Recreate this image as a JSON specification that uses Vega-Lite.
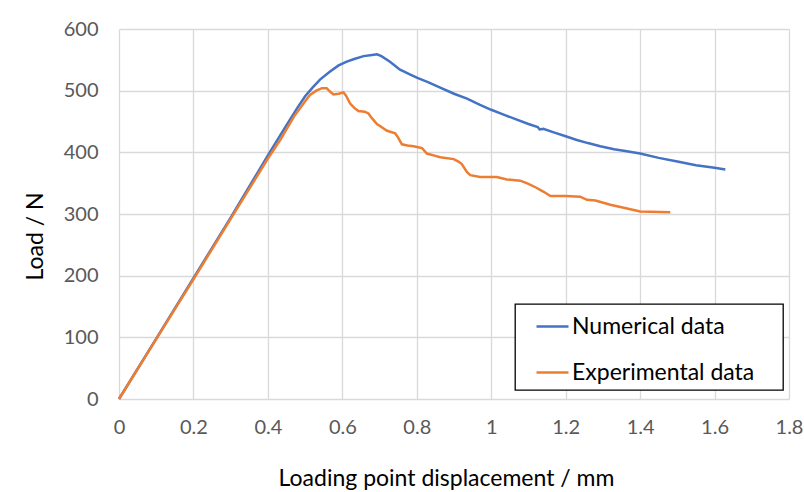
{
  "$schema": "https://vega.github.io/schema/vega-lite/v6.json",
  "width": 670,
  "height": 370,
  "autosize": "none",
  "padding": {"left": 119, "top": 29, "right": 15, "bottom": 93},
  "background": "white",
  "config": {"view": {"stroke": null}, "font": "Lato"},
  "datasets": {
    "num": [
      {"x":0,"y":0},{"x":0.1,"y":98},{"x":0.2,"y":196},{"x":0.3,"y":294},{"x":0.4,"y":395},{"x":0.45,"y":444},{"x":0.48,"y":473},{"x":0.5,"y":491},{"x":0.52,"y":505},{"x":0.54,"y":518},{"x":0.567,"y":531},{"x":0.59,"y":541},{"x":0.612,"y":547},{"x":0.63,"y":551},{"x":0.657,"y":556},{"x":0.68,"y":558},{"x":0.693,"y":559},{"x":0.705,"y":556},{"x":0.728,"y":547},{"x":0.755,"y":534},{"x":0.78,"y":527},{"x":0.8,"y":521},{"x":0.83,"y":514},{"x":0.863,"y":505},{"x":0.9,"y":495},{"x":0.935,"y":487},{"x":0.97,"y":477},{"x":1.0,"y":469},{"x":1.03,"y":462},{"x":1.06,"y":455},{"x":1.1,"y":446},{"x":1.125,"y":441},{"x":1.13,"y":437},{"x":1.14,"y":438},{"x":1.17,"y":432},{"x":1.2,"y":426},{"x":1.23,"y":420},{"x":1.26,"y":415},{"x":1.293,"y":410},{"x":1.33,"y":405},{"x":1.36,"y":402},{"x":1.4,"y":398},{"x":1.45,"y":391},{"x":1.5,"y":385},{"x":1.55,"y":379},{"x":1.6,"y":375},{"x":1.629,"y":372}
    ],
    "exp": [
      {"x":0,"y":0},{"x":0.1,"y":97},{"x":0.2,"y":194},{"x":0.3,"y":292},{"x":0.4,"y":390},{"x":0.433,"y":420},{"x":0.47,"y":458},{"x":0.5,"y":483},{"x":0.513,"y":493},{"x":0.53,"y":500},{"x":0.545,"y":504},{"x":0.558,"y":504},{"x":0.566,"y":499},{"x":0.576,"y":494},{"x":0.59,"y":495},{"x":0.603,"y":497},{"x":0.61,"y":492},{"x":0.621,"y":479},{"x":0.632,"y":472},{"x":0.643,"y":467},{"x":0.66,"y":466},{"x":0.67,"y":463},{"x":0.68,"y":455},{"x":0.693,"y":446},{"x":0.705,"y":441},{"x":0.72,"y":435},{"x":0.742,"y":431},{"x":0.75,"y":424},{"x":0.76,"y":413},{"x":0.775,"y":411},{"x":0.791,"y":410},{"x":0.814,"y":407},{"x":0.827,"y":398},{"x":0.845,"y":395},{"x":0.863,"y":392},{"x":0.899,"y":389},{"x":0.912,"y":385},{"x":0.921,"y":381},{"x":0.935,"y":368},{"x":0.944,"y":363},{"x":0.97,"y":360},{"x":1.015,"y":360},{"x":1.042,"y":356},{"x":1.078,"y":354},{"x":1.1,"y":349},{"x":1.12,"y":343},{"x":1.141,"y":336},{"x":1.159,"y":329},{"x":1.2,"y":329},{"x":1.239,"y":328},{"x":1.257,"y":323},{"x":1.28,"y":322},{"x":1.32,"y":315},{"x":1.365,"y":309},{"x":1.4,"y":304},{"x":1.481,"y":303}
    ]
  },
  "layer": [
    {
      "data": {"name": "num"},
      "transform": [{"calculate": "'Numerical data'", "as": "series"}],
      "mark": {"type": "line", "strokeWidth": 2.5},
      "encoding": {
        "x": {"field": "x", "type": "quantitative"},
        "y": {"field": "y", "type": "quantitative"},
        "color": {"field": "series", "type": "nominal"}
      }
    },
    {
      "data": {"name": "exp"},
      "transform": [{"calculate": "'Experimental data'", "as": "series"}],
      "mark": {"type": "line", "strokeWidth": 2.5},
      "encoding": {
        "x": {"field": "x", "type": "quantitative"},
        "y": {"field": "y", "type": "quantitative"},
        "color": {"field": "series", "type": "nominal"}
      }
    }
  ],
  "encoding": {
    "x": {
      "field": "x", "type": "quantitative",
      "scale": {"domain": [0, 1.8], "nice": false},
      "axis": {
        "values": [0,0.2,0.4,0.6,0.8,1,1.2,1.4,1.6,1.8],
        "format": "~g",
        "labelFlush": false, "labelOverlap": false,
        "title": "Loading point displacement / mm",
        "domain": false, "ticks": false,
        "grid": true, "gridColor": "#D9D9D9", "gridWidth": 1.3,
        "labelFontSize": 20, "labelColor": "#595959", "labelPadding": 18,
        "labelFont": "Lato",
        "titleFontSize": 23, "titleColor": "#000000", "titleFontWeight": "normal",
        "titleFont": "Lato",
        "titleX": 327, "titleY": 86, "titleBaseline": "alphabetic"
      }
    },
    "y": {
      "field": "y", "type": "quantitative",
      "scale": {"domain": [0, 600], "nice": false},
      "axis": {
        "values": [0,100,200,300,400,500,600],
        "labelOverlap": false,
        "title": "Load / N",
        "domain": false, "ticks": false,
        "grid": true, "gridColor": "#D9D9D9", "gridWidth": 1.3,
        "labelFontSize": 20, "labelColor": "#595959", "labelPadding": 21,
        "labelFont": "Lato",
        "titleFontSize": 23, "titleColor": "#000000", "titleFontWeight": "normal",
        "titleFont": "Lato",
        "titleX": -84, "titleY": 207, "titleBaseline": "middle"
      }
    },
    "color": {
      "field": "series", "type": "nominal",
      "scale": {"domain": ["Numerical data", "Experimental data"], "range": ["#4472C4", "#ED7D31"]},
      "legend": {
        "title": null,
        "orient": "none",
        "legendX": 396,
        "legendY": 275,
        "symbolType": "stroke",
        "symbolSize": 1024,
        "symbolStrokeWidth": 2.5,
        "symbolOffset": 15,
        "labelFontSize": 23,
        "labelFont": "Lato",
        "labelColor": "#000000",
        "labelOffset": 2,
        "labelExpr": "datum.label + '\u00a0\u2800'",
        "rowPadding": 16,
        "padding": 5,
        "strokeColor": "#000000",
        "fillColor": "#FFFFFF",
        "labelLimit": 400,
        "encode": {"legend": {"update": {"strokeWidth": {"value": 1.3}}}}
      }
    }
  }
}
